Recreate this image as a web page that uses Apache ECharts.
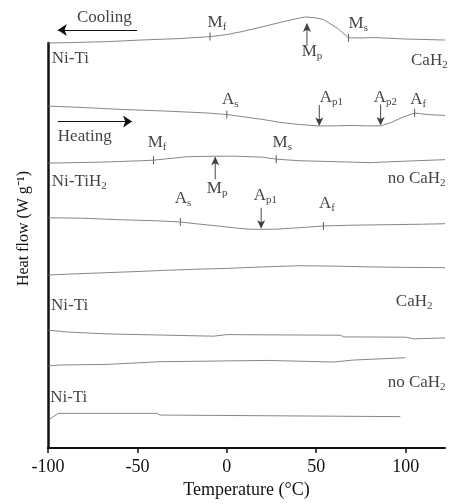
<!DOCTYPE html>
<html>
<head>
  <meta charset="UTF-8">
  <title>DSC</title>
  <script src="https://cdn.jsdelivr.net/npm/echarts/dist/echarts.min.js"></script>
  <style>
    html, body { margin: 0; padding: 0; background: #fff; }
    #chart { width: 457px; height: 504px; }
  </style>
</head>
<body>
  <div id="chart"></div>
  <script>
    // x ticks
    const tickVals = [-100, -50, 0, 50, 100]

    // heat flow traces (arbitrary offset units), temperature in °C
    const t1 = [-100, -85, -65, -48, -26, -9, 0, 8, 18, 26, 35, 44, 50, 54, 62, 68, 75, 82, 100, 122]
    const h1 = [408, 408.5, 409.5, 411, 412.5, 414.5, 416.5, 419.3, 423.5, 427, 431, 434.3, 433.2, 431.7, 422.7, 413.3, 413, 413.5, 412, 411]

    const t2 = [-100, -80, -58, -35, -11, 0, 10, 20, 30, 40, 51, 60, 70, 78, 86, 92, 98, 105, 112, 122]
    const h2 = [344.5, 343, 341, 339.5, 337.5, 336, 333.5, 331, 328, 326, 324.5, 324.5, 325, 324.5, 324.5, 328, 333, 337.5, 336, 335]

    const t3 = [-100, -70, -47, -41, -30, -22, -6.5, 5, 20, 27.6, 40, 60, 80, 100, 122]
    const h3 = [287, 288, 289.5, 290, 292, 293.5, 294, 294, 293, 291, 289.5, 288.5, 287.5, 289, 290.5]

    const t4 = [-100, -80, -60, -40, -26, -15, -4, 6, 13, 19, 28, 36, 45, 54, 70, 90, 110, 122]
    const h4 = [232, 231.5, 230, 229, 227.7, 225.5, 223.5, 221.5, 220.5, 220.3, 220.5, 221.5, 222.5, 223.7, 224.5, 225, 225.5, 226]

    const t5 = [-100, -85, -70, -52, -35, -15, 0, 20, 41, 60, 80, 100, 122]
    const h5 = [174.3, 175.5, 176.5, 177.7, 179, 180.3, 181, 182.5, 183.7, 183.3, 182.5, 182, 181.7]

    const t6 = [-100, -89.7, -67.2, -40, -7.5, 0, 30, 63.5, 65.3, 100, 104.4, 122]
    const h6 = [118.7, 117, 115, 114, 112.7, 114.3, 114, 113.7, 112, 111.7, 110, 111]

    const t7 = [-100, -93.4, -67.2, -37.4, 22.4, 59.7, 70.9, 99.9]
    const h7 = [82.7, 83.7, 84.3, 87, 88.3, 86.7, 88.7, 91]

    const t8 = [-99, -94.3, -39.2, -37.4, 97]
    const h8 = [29.3, 35, 35, 33.3, 31.7]

    // transition markers on the traces [T, h]
    const crossPts = [[-9.4, 414.5], [68, 413.3], [0, 336], [105, 337.7], [-41, 290], [27.6, 291], [-26, 227.7], [54, 223.7]]
    const upArrows = [[44.8, 428.3], [-6.5, 294]]
    const downArrows = [[51.7, 324.5], [86, 325], [19.2, 221]]

    // text notes [T, h, main, sub, align]
    const notes = [
      [-5.5, 429, 'M', 'f', 'center'], [73.5, 428, 'M', 's', 'center'], [47.6, 399, 'M', 'p', 'center'],
      [1.9, 351, 'A', 's', 'center'], [58.5, 353, 'A', 'p1', 'center'], [88.7, 353, 'A', 'p2', 'center'], [107, 351, 'A', 'f', 'center'],
      [-39, 308, 'M', 'f', 'center'], [31, 308, 'M', 's', 'center'], [-5.4, 261, 'M', 'p', 'center'],
      [-24.5, 251, 'A', 's', 'center'], [21.5, 254, 'A', 'p1', 'center'], [56, 246, 'A', 'f', 'center'],
      [-97.9, 392, 'Ni-Ti', '', 'left'], [123.5, 390, 'CaH', '2', 'right'],
      [-97.9, 268, 'Ni-TiH', '2', 'left'], [122.3, 271, 'no CaH', '2', 'right'],
      [-98.3, 144, 'Ni-Ti', '', 'left'], [115, 148, 'CaH', '2', 'right'],
      [122.3, 66, 'no CaH', '2', 'right'], [-98.8, 51, 'Ni-Ti', '', 'left'],
      [-83.8, 434, 'Cooling', '', 'left'], [-94.5, 314, 'Heating', '', 'left']
    ]
    const dirArrows = [
      [[-50.2, 421], [-94.5, 421]],
      [[-94.5, 329], [-53, 329]]
    ]

    const serif = 'Liberation Serif'
    const ink = '#111'
    const traceColor = '#666'
    const posFor = { center: 'inside', left: 'right', right: 'left' }

    const traces = [[t1, h1], [t2, h2], [t3, h3], [t4, h4], [t5, h5], [t6, h6], [t7, h7], [t8, h8]]

    const series = traces.map(([t, h]) => ({
      type: 'line',
      data: t.map((v, i) => [v, h[i]]),
      symbol: 'none',
      clip: false,
      silent: true,
      lineStyle: { color: traceColor, width: 0.8 }
    }))

    series.push({
      type: 'scatter',
      data: crossPts,
      clip: false,
      symbol: 'rect',
      symbolSize: [1, 8],
      itemStyle: { color: '#333' }
    })
    series.push({
      type: 'scatter',
      data: upArrows,
      clip: false,
      symbol: 'path://M5,0 L10,12 L5,9 L0,12 Z M4.4,9 H5.6 V30 H4.4 Z',
      symbolKeepAspect: false,
      symbolSize: [8, 23],
      symbolOffset: [0, '50%'],
      itemStyle: { color: ink }
    })
    series.push({
      type: 'scatter',
      data: downArrows,
      clip: false,
      symbol: 'path://M4.4,0 H5.6 V21 H4.4 Z M0,18 L5,21 L10,18 L5,30 Z',
      symbolKeepAspect: false,
      symbolSize: [8, 21],
      symbolOffset: [0, '-50%'],
      itemStyle: { color: ink }
    })
    series.push({
      type: 'lines',
      coordinateSystem: 'cartesian2d',
      clip: false,
      symbol: ['none', 'arrow'],
      symbolSize: [0, 9],
      lineStyle: { color: ink, width: 1, opacity: 1 },
      data: dirArrows.map(c => ({ coords: c }))
    })
    series.push({
      type: 'scatter',
      clip: false,
      symbolSize: 0,
      data: notes.map(n => ({
        value: [n[0], n[1]],
        main: n[2],
        sub: n[3],
        label: { position: posFor[n[4]], distance: 0 }
      })),
      label: {
        show: true,
        position: 'inside',
        color: ink,
        fontFamily: serif,
        formatter: p => p.data.sub ? `{m|${p.data.main}}{s|${p.data.sub}}` : `{m|${p.data.main}}`,
        rich: {
          m: { fontSize: 17, fontFamily: serif, color: ink, lineHeight: 19 },
          s: { fontSize: 11, fontFamily: serif, color: ink, verticalAlign: 'top', padding: [9, 0, 0, 0] }
        }
      }
    })

    const chart = echarts.init(document.getElementById('chart'), null, { renderer: 'canvas' })
    chart.setOption({
      animation: false,
      backgroundColor: '#fff',
      grid: { left: 48, right: 12, top: 43, bottom: 53, containLabel: false },
      xAxis: {
        type: 'value',
        min: -100,
        max: 122,
        interval: 50,
        name: 'Temperature (°C)',
        nameLocation: 'middle',
        nameGap: 30,
        nameTextStyle: { fontFamily: serif, fontSize: 18, color: ink },
        axisLine: { onZero: false, lineStyle: { color: ink, width: 2 } },
        axisTick: { show: true, length: 5, lineStyle: { color: ink, width: 1.5 }, customValues: tickVals },
        axisLabel: { fontFamily: serif, fontSize: 18, color: ink, margin: 10, customValues: tickVals },
        splitLine: { show: false }
      },
      yAxis: {
        type: 'value',
        min: 0,
        max: 408,
        name: 'Heat flow (W g⁻¹)',
        nameLocation: 'middle',
        nameRotate: 90,
        nameGap: 16,
        nameTextStyle: { fontFamily: serif, fontSize: 16, color: ink, padding: [0, 0, 0, 34] },
        axisLine: { show: true, onZero: false, lineStyle: { color: ink, width: 2.5 } },
        axisTick: { show: false },
        axisLabel: { show: false },
        splitLine: { show: false }
      },
      series: series
    })
  </script>
</body>
</html>
